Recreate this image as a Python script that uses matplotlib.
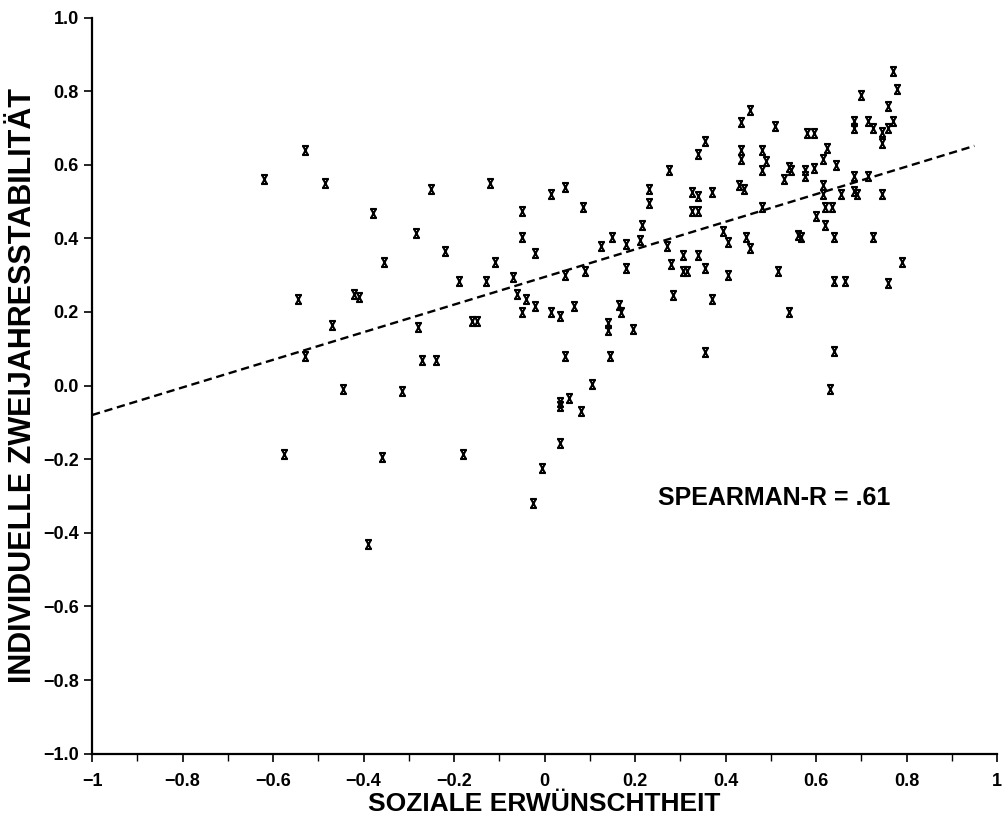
import numpy as np
import matplotlib
matplotlib.use('Agg')
import matplotlib.pyplot as plt
from matplotlib.path import Path
from matplotlib.ticker import MultipleLocator

# soziale erwuenschtheit (x) und individuelle zweijahresstabilitaet (y)
soziale = [
    -0.53, -0.62, -0.485, -0.25, -0.12, -0.38, -0.285, -0.22, -0.355, -0.19,
    -0.13, -0.545, -0.42, -0.41, -0.47, -0.53, -0.28, -0.16, -0.15, -0.27,
    -0.24, -0.445, -0.315, -0.575, -0.36, -0.18, -0.39,
    -0.05, -0.05, -0.02, -0.11, -0.07, -0.06, -0.04, -0.02, -0.05, 0.015,
    0.035, 0.065, 0.015, 0.045, 0.085, 0.045, 0.09, 0.125, 0.15, 0.18,
    0.21, 0.215, 0.23, 0.23, 0.275, 0.34, 0.355, 0.325, 0.34, 0.37,
    0.325, 0.34, 0.395, 0.405, 0.27, 0.305, 0.34, 0.28, 0.305, 0.315,
    0.355, 0.405, 0.18, 0.285, 0.37, 0.165, 0.17, 0.14, 0.14, 0.195,
    0.045, 0.145, 0.355, 0.105, 0.035, 0.035, 0.055, 0.08, 0.035, -0.005,
    -0.025,
    0.77, 0.78, 0.70, 0.76, 0.685, 0.685, 0.715, 0.725, 0.745, 0.745,
    0.76, 0.77, 0.455, 0.435, 0.51, 0.58, 0.595, 0.435, 0.435, 0.48,
    0.49, 0.48, 0.625, 0.615, 0.645, 0.54, 0.545, 0.53, 0.575, 0.575,
    0.595, 0.43, 0.44, 0.685, 0.715, 0.615, 0.615, 0.655, 0.685, 0.69,
    0.745, 0.48, 0.62, 0.635, 0.60, 0.62, 0.56, 0.567, 0.64, 0.725,
    0.445, 0.455, 0.79, 0.515, 0.64, 0.665, 0.76, 0.54, 0.64, 0.63,
]
stabilitaet = [
    0.64, 0.56, 0.55, 0.535, 0.55, 0.47, 0.415, 0.365, 0.335, 0.285,
    0.285, 0.235, 0.25, 0.24, 0.165, 0.08, 0.16, 0.175, 0.175, 0.07,
    0.07, -0.01, -0.015, -0.185, -0.195, -0.185, -0.43,
    0.475, 0.405, 0.36, 0.335, 0.295, 0.25, 0.235, 0.215, 0.20, 0.20,
    0.19, 0.215, 0.52, 0.54, 0.485, 0.30, 0.31, 0.38, 0.405, 0.385,
    0.395, 0.435, 0.535, 0.495, 0.585, 0.63, 0.665, 0.525, 0.515, 0.525,
    0.475, 0.475, 0.42, 0.39, 0.38, 0.355, 0.355, 0.33, 0.31, 0.31,
    0.32, 0.30, 0.32, 0.245, 0.235, 0.22, 0.20, 0.17, 0.15, 0.155,
    0.08, 0.08, 0.09, 0.005, -0.045, -0.055, -0.035, -0.07, -0.155, -0.225,
    -0.32,
    0.855, 0.805, 0.79, 0.76, 0.72, 0.70, 0.72, 0.70, 0.69, 0.66,
    0.70, 0.72, 0.75, 0.715, 0.705, 0.685, 0.685, 0.64, 0.615, 0.64,
    0.61, 0.585, 0.645, 0.615, 0.60, 0.595, 0.585, 0.56, 0.585, 0.57,
    0.59, 0.545, 0.535, 0.57, 0.57, 0.545, 0.52, 0.52, 0.53, 0.52,
    0.52, 0.485, 0.485, 0.485, 0.46, 0.435, 0.41, 0.403, 0.405, 0.405,
    0.405, 0.375, 0.335, 0.31, 0.285, 0.285, 0.28, 0.20, 0.095, -0.01,
]

# regressionsgerade
reg_intercept = 0.295
reg_slope = 0.375
reg_x = [-1.0, 0.95]

x_ticks = [-1, -0.8, -0.6, -0.4, -0.2, 0, 0.2, 0.4, 0.6, 0.8, 1]
x_ticklabels = ['\u22121', '\u22120.8', '\u22120.6', '\u22120.4', '\u22120.2', '0', '0.2', '0.4', '0.6', '0.8', '1']
y_ticks = [-1.0, -0.8, -0.6, -0.4, -0.2, 0.0, 0.2, 0.4, 0.6, 0.8, 1.0]
y_ticklabels = ['\u22121.0', '\u22120.8', '\u22120.6', '\u22120.4', '\u22120.2', '0.0', '0.2', '0.4', '0.6', '0.8', '1.0']

plt.rcParams['font.family'] = ['Liberation Sans', 'DejaVu Sans']

# "x"-Symbol mit Querbalken oben und unten wie im Original
verts = [(-0.55, 1), (0.55, -1), (0.55, 1), (-0.55, -1),
         (-0.75, 1), (0.75, 1), (-0.75, -1), (0.75, -1)]
codes = [Path.MOVETO, Path.LINETO] * 4
xmark = Path(verts, codes)

fig = plt.figure(figsize=(10.08, 8.34), dpi=100)
ax = fig.add_axes([0.0913, 0.0963, 0.8978, 0.8827])

ax.plot(soziale, stabilitaet, linestyle='none', marker=xmark, markersize=6.5,
        markeredgecolor='black', markerfacecolor='none', markeredgewidth=1.5)

rx = np.array(reg_x)
ax.plot(rx, reg_intercept + reg_slope * rx, color='black', lw=1.7,
        linestyle=(0, (3.5, 2.0)))

ax.text(0.25, -0.305, 'SPEARMAN-R = .61', fontsize=18, fontweight='bold',
        ha='left', va='center')

ax.set_xlim(-1, 1)
ax.set_ylim(-1, 1)
ax.set_xticks(x_ticks)
ax.set_xticklabels(x_ticklabels)
ax.set_yticks(y_ticks)
ax.set_yticklabels(y_ticklabels)
ax.xaxis.set_minor_locator(MultipleLocator(0.1))
ax.tick_params(axis='both', which='major', direction='out', length=6, width=1.2,
               labelsize=13)
ax.tick_params(axis='x', which='major', pad=8)
ax.tick_params(axis='x', which='minor', direction='out', length=5, width=1.0)
for lab in ax.get_xticklabels() + ax.get_yticklabels():
    lab.set_fontweight('bold')

for s in ['top', 'right']:
    ax.spines[s].set_visible(False)
for s in ['left', 'bottom']:
    ax.spines[s].set_linewidth(1.6)

ax.set_xlabel('SOZIALE ERWÜNSCHTHEIT', fontsize=19, fontweight='bold', labelpad=1)
ax.set_ylabel('INDIVIDUELLE ZWEIJAHRESSTABILITÄT', fontsize=22, fontweight='bold',
              labelpad=4)

fig.savefig('out.png', dpi=100)
